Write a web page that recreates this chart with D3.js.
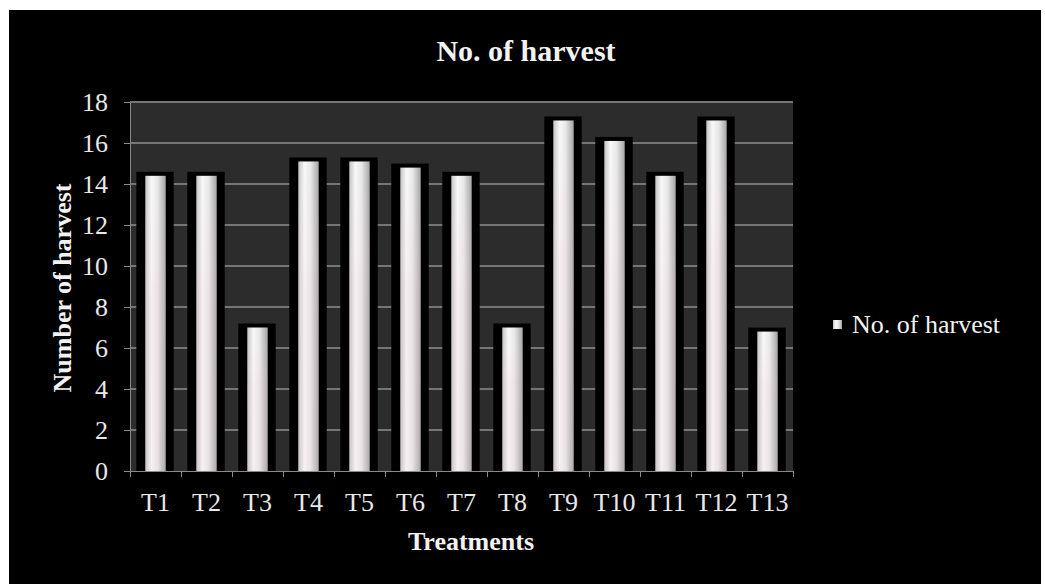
<!DOCTYPE html>
<meta charset="utf-8">
<head>
<style>
body {
  margin: 0;
  background: #fff;
  font-family: "Liberation Serif", "Times New Roman", serif;
}
.grid line {
  stroke: #767676;
  stroke-width: 1.2px;
  shape-rendering: crispEdges;
}
.axis path,
.axis line {
  stroke: #8a8a8a;
  stroke-width: 1px;
  fill: none;
  shape-rendering: crispEdges;
}
.axis text {
  fill: #e8e8e8;
  font-family: "Liberation Serif", serif;
  font-size: 26px;
}
</style>
<script src="https://d3js.org/d3.v7.min.js"></script>
</head>
<body>
<div id="chart"></div>
<script>

var treatments = ["T1", "T2", "T3", "T4", "T5", "T6", "T7", "T8", "T9", "T10", "T11", "T12", "T13"];
var harvests = [14.4, 14.4, 7.0, 15.1, 15.1, 14.8, 14.4, 7.0, 17.1, 16.1, 14.4, 17.1, 6.8];
var yTicks = [0, 2, 4, 6, 8, 10, 12, 14, 16, 18];

var W = 1045, H = 585;
var plot = {left: 130, right: 793, top: 102, bottom: 471};

var svg = d3.select("#chart").append("svg")
  .attr("width", W)
  .attr("height", H);

// gradients for the bars
var defs = svg.append("defs");
var hg = defs.append("linearGradient").attr("id", "barH")
  .attr("x1", "0%").attr("x2", "100%").attr("y1", "0%").attr("y2", "0%");
hg.append("stop").attr("offset", "0%").attr("stop-color", "#c4c4c4");
hg.append("stop").attr("offset", "30%").attr("stop-color", "#f8f8f8");
hg.append("stop").attr("offset", "60%").attr("stop-color", "#e8e8e8");
hg.append("stop").attr("offset", "100%").attr("stop-color", "#a4a4a4");

var vg = defs.append("linearGradient").attr("id", "barV")
  .attr("x1", "0%").attr("x2", "0%").attr("y1", "0%").attr("y2", "100%");
vg.append("stop").attr("offset", "0%").attr("stop-color", "#ffe0ea").attr("stop-opacity", 0);
vg.append("stop").attr("offset", "40%").attr("stop-color", "#f0c8d6").attr("stop-opacity", 0.18);
vg.append("stop").attr("offset", "100%").attr("stop-color", "#e8c0d0").attr("stop-opacity", 0.14);

// black chart box
svg.append("rect")
  .attr("x", 9).attr("y", 10)
  .attr("width", 1032).attr("height", 574)
  .attr("fill", "#000");

// plot area
svg.append("rect")
  .attr("x", plot.left).attr("y", plot.top)
  .attr("width", plot.right - plot.left).attr("height", plot.bottom - plot.top)
  .attr("fill", "#2c2c2c");

var x = d3.scaleBand()
  .domain(treatments)
  .range([plot.left, plot.right])
  .paddingInner(0.6)
  .paddingOuter(0.3);

var y = d3.scaleLinear()
  .domain([0, 18])
  .range([plot.bottom, plot.top]);

// gridlines
svg.append("g")
  .attr("class", "grid")
  .selectAll("line")
  .data(yTicks.slice(1))
  .enter().append("line")
    .attr("x1", plot.left).attr("x2", plot.right)
    .attr("y1", function(d) { return y(d); })
    .attr("y2", function(d) { return y(d); });

// bars: shadow box, grey body, pink tint
var bars = svg.append("g").selectAll("g")
  .data(harvests)
  .enter().append("g");

bars.append("rect")
  .attr("x", function(d, i) { return x(treatments[i]) - 9; })
  .attr("y", function(d) { return y(d) - 4; })
  .attr("width", x.bandwidth() + 17)
  .attr("height", function(d) { return plot.bottom - y(d) + 4; })
  .attr("fill", "#000");

bars.append("rect")
  .attr("x", function(d, i) { return x(treatments[i]); })
  .attr("y", function(d) { return y(d); })
  .attr("width", x.bandwidth())
  .attr("height", function(d) { return plot.bottom - y(d); })
  .attr("fill", "url(#barH)");

bars.append("rect")
  .attr("x", function(d, i) { return x(treatments[i]); })
  .attr("y", function(d) { return y(d); })
  .attr("width", x.bandwidth())
  .attr("height", function(d) { return plot.bottom - y(d); })
  .attr("fill", "url(#barV)");

// y axis
svg.append("g")
  .attr("class", "axis")
  .attr("transform", "translate(" + plot.left + ",0)")
  .call(d3.axisLeft(y).tickValues(yTicks).tickSize(6).tickSizeOuter(0).tickPadding(16));

// x axis, ticks on category boundaries
var xEdge = d3.scaleLinear().domain([0, treatments.length]).range([plot.left, plot.right]);
var xAx = svg.append("g")
  .attr("class", "axis")
  .attr("transform", "translate(0," + plot.bottom + ")");
xAx.append("line")
  .attr("x1", plot.left).attr("x2", plot.right);
xAx.selectAll(".edge")
  .data(d3.range(treatments.length + 1))
  .enter().append("line")
    .attr("class", "edge")
    .attr("x1", function(d) { return xEdge(d); })
    .attr("x2", function(d) { return xEdge(d); })
    .attr("y1", 0).attr("y2", 6);
xAx.selectAll(".lbl")
  .data(treatments)
  .enter().append("text")
    .attr("class", "lbl")
    .attr("x", function(d) { return x(d) + x.bandwidth() / 2; })
    .attr("y", 40)
    .attr("text-anchor", "middle")
    .text(function(d) { return d; });

// titles
svg.append("text")
  .attr("x", 526).attr("y", 61)
  .attr("text-anchor", "middle")
  .attr("fill", "#f2f2f2")
  .style("font-size", "30px")
  .style("font-weight", "bold")
  .text("No. of harvest");

svg.append("text")
  .attr("x", 471).attr("y", 550)
  .attr("text-anchor", "middle")
  .attr("fill", "#f2f2f2")
  .style("font-size", "26px")
  .style("font-weight", "bold")
  .text("Treatments");

svg.append("text")
  .attr("transform", "translate(71,288) rotate(-90)")
  .attr("text-anchor", "middle")
  .attr("fill", "#f2f2f2")
  .style("font-size", "26px")
  .style("font-weight", "bold")
  .text("Number of harvest");

// legend
var legend = svg.append("g").attr("transform", "translate(833,320)");
legend.append("rect")
  .attr("width", 9).attr("height", 9)
  .attr("fill", "url(#barH)");
legend.append("text")
  .attr("x", 19).attr("y", 13)
  .attr("fill", "#f2f2f2")
  .style("font-size", "26px")
  .text("No. of harvest");

</script>
</body>
</html>
